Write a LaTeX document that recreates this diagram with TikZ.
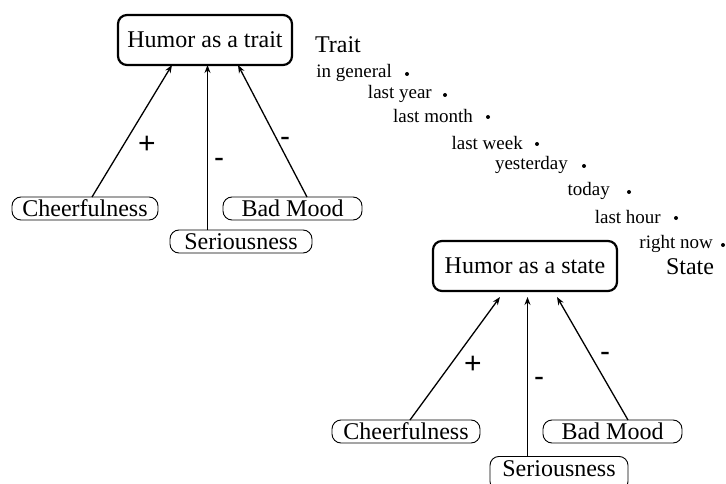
\documentclass[tikz,border=0pt]{standalone}
\usepackage{fontspec}
\setmainfont{Liberation Serif}
\setsansfont{Liberation Sans}
\usetikzlibrary{arrows.meta}
\tikzset{
  bigbox/.style={draw, line width=2.2pt, rounded corners=9pt, minimum width=#1, minimum height=50pt, inner sep=0pt, font=\fontsize{24}{28}\selectfont},
  smallbox/.style={draw, line width=0.9pt, rounded corners=9pt, minimum width=#1, minimum height=23pt, inner sep=0pt, font=\fontsize{24}{28}\selectfont},
  conn/.style={line width=1.3pt, -{Stealth[length=8pt,width=6pt]}},
  sign/.style={font=\sffamily\fontsize{30}{32}\selectfont, inner sep=0pt},
  tl/.style={font=\fontsize{19}{22}\selectfont, inner sep=0pt, anchor=east},
  big/.style={font=\fontsize{24}{28}\selectfont, inner sep=0pt},
  dotn/.style={circle, fill, inner sep=0pt, minimum size=4pt}
}
\begin{document}
\begin{tikzpicture}[x=1pt,y=-1pt]
\useasboundingbox (0,0) rectangle (726,484);
\clip (0,0) rectangle (726,484);
% Trait diagram
\node[bigbox=174pt] (trait) at (205,40) {Humor as a trait};
\node[smallbox=146pt] (c1) at (85,208.5) {Cheerfulness};
\node[smallbox=139pt] (b1) at (292.5,208.5) {Bad Mood};
\node[smallbox=142pt] (s1) at (241,241.5) {Seriousness};
\coordinate (c1t) at (92,197);
\coordinate (b1t) at (307,197);
\coordinate (s1t) at (207.5,230);
\coordinate (t1a) at (172,65);
\coordinate (t1s) at (207.5,65);
\coordinate (t1b) at (238,65);
\draw[conn] (c1t) -- (t1a);
\draw[conn, line width=1pt] (s1t) -- (t1s);
\draw[conn] (b1t) -- (t1b);
\node[sign] (p1) at (147,145) {+};
\node[sign] (m1) at (219,163) {-};
\node[sign] (m2) at (285,142) {-};
% time scale
\node[big] (traitlbl) at (338,45) {Trait};
\node[tl] (ig) at (392,73) {in general};
\node[dotn] (dig) at (407,74) {};
\node[tl] (ly) at (432,94) {last year};
\node[dotn] (dly) at (445,95) {};
\node[tl] (lm) at (473,116) {last month};
\node[dotn] (dlm) at (488,117) {};
\node[tl] (lw) at (523,143) {last week};
\node[dotn] (dlw) at (537,144) {};
\node[tl] (yd) at (568,165) {yesterday};
\node[dotn] (dyd) at (584,166) {};
\node[tl] (td) at (610,191) {today};
\node[dotn] (dtd) at (629,192) {};
\node[tl] (lh) at (661,217) {last hour};
\node[dotn] (dlh) at (676,218) {};
\node[tl] (rn) at (713,244) {right now};
\node[dotn] (drn) at (723,245) {};
\node[big] (statelbl) at (690,267) {State};
% State diagram
\node[bigbox=184pt] (state) at (525,266) {Humor as a state};
\node[smallbox=148pt] (c2) at (406,431.5) {Cheerfulness};
\node[smallbox=139pt] (b2) at (612.5,431.5) {Bad Mood};
\node[smallbox=138pt, minimum height=34pt, anchor=north] (s2) at (559,456) {};
\node[big] (s2t) at (559,469) {Seriousness};
\coordinate (c2t) at (410,420);
\coordinate (b2t) at (628,420);
\coordinate (s2top) at (527.5,456);
\coordinate (t2a) at (500,297);
\coordinate (t2s) at (527.5,297);
\coordinate (t2b) at (557,297);
\draw[conn] (c2t) -- (t2a);
\draw[conn, line width=1pt] (s2top) -- (t2s);
\draw[conn] (b2t) -- (t2b);
\node[sign] (p2) at (473,365) {+};
\node[sign] (m3) at (539,382) {-};
\node[sign] (m4) at (605,357) {-};
\end{tikzpicture}
\end{document}
